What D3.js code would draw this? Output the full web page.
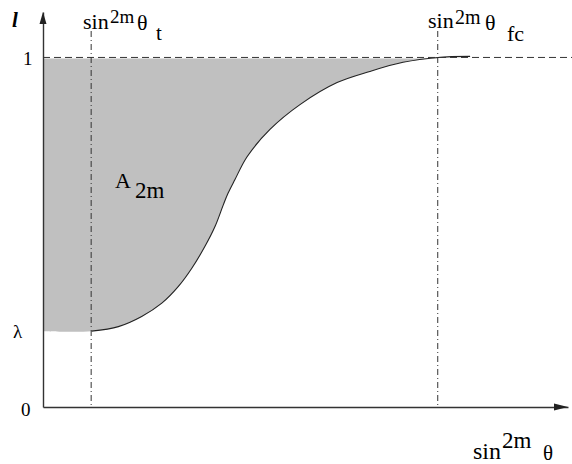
<html>
<head>
<meta charset="utf-8">
<script src="https://cdn.jsdelivr.net/npm/d3@7/dist/d3.min.js"></script>
<style>
  body { margin: 0; background: #fff; }
</style>
</head>
<body>
<div id="chart"></div>
<script>
// valeurs (x = sin^2m theta, y = l)
const lambda = 0.217;
const xT = 0.122;      // sin^2m theta_t
const xFc = 1.0;       // sin^2m theta_fc
const curveX = [0, 0.123, 0.191, 0.250, 0.301, 0.343, 0.377, 0.410, 0.436, 0.457, 0.469, 0.486, 0.517, 0.575, 0.651, 0.745, 0.828, 0.912, 1.0, 1.082];
const curveY = [0.217, 0.217, 0.230, 0.259, 0.297, 0.345, 0.397, 0.459, 0.517, 0.579, 0.612, 0.650, 0.716, 0.794, 0.865, 0.928, 0.960, 0.986, 1.0, 1.003];
const yTickValues = [0, lambda, 1];
const yTickLabels = ["0", "\u03bb", "1"];

const width = 572, height = 464;
const serif = "Liberation Serif";

const x = d3.scaleLinear().domain([0, 1.33]).range([43, 568]);
const y = d3.scaleLinear().domain([0, 1.13]).range([407, 12]);

const svg = d3.select("#chart").append("svg")
    .attr("width", width)
    .attr("height", height);

const pts = curveX.map((v, i) => [v, curveY[i]]);

// zone grise A_2m : entre l = 1 et la courbe
const inFill = pts.filter(p => p[0] <= xFc);
const area = d3.area()
    .x(d => x(d[0]))
    .y0(y(1) + 1)
    .y1(d => y(d[1]))
    .curve(d3.curveCatmullRom);
svg.append("path")
    .datum(inFill)
    .attr("d", area)
    .attr("fill", "#c0c0c0");

// courbe
const line = d3.line()
    .x(d => x(d[0]))
    .y(d => y(d[1]))
    .curve(d3.curveCatmullRom);
svg.append("path")
    .datum(pts.slice(1))
    .attr("d", line)
    .attr("fill", "none")
    .attr("stroke", "#222")
    .attr("stroke-width", 1.1);

// ligne l = 1 en tirets
svg.append("line")
    .attr("x1", x(0)).attr("x2", width)
    .attr("y1", y(1)).attr("y2", y(1))
    .attr("stroke", "#333")
    .attr("stroke-width", 1)
    .attr("stroke-dasharray", "7,4");

// verticales theta_t et theta_fc
[xT, xFc].forEach(v => {
    svg.append("line")
        .attr("x1", x(v)).attr("x2", x(v))
        .attr("y1", 31).attr("y2", y(0))
        .attr("stroke", "#333")
        .attr("stroke-width", 1)
        .attr("stroke-dasharray", "6,3,1,3");
});

// axes
const yAxis = svg.append("g")
    .attr("transform", "translate(" + x(0) + ",0)")
    .call(d3.axisLeft(y).tickValues(yTickValues).tickSize(0).tickPadding(10)
        .tickFormat((d, i) => yTickLabels[i]));
yAxis.select(".domain").attr("stroke", "#333").attr("stroke-width", 1.4);
yAxis.selectAll("text")
    .style("font-family", serif)
    .style("font-size", "19px")
    .attr("fill", "#000")
    .attr("text-anchor", "start")
    .attr("dy", null)
    .attr("y", (d, i) => [8, 6, 7][i])
    .attr("x", (d, i) => [21, 13, 23][i] - x(0));

const xAxis = svg.append("g")
    .attr("transform", "translate(0," + y(0) + ")")
    .call(d3.axisBottom(x).tickValues([]).tickSize(0));
xAxis.select(".domain").attr("stroke", "#333").attr("stroke-width", 1.4);

// fleches
svg.append("path")
    .attr("d", d3.line()([[x(0), y(1.13)], [x(0) - 3.5, y(1.13) + 12], [x(0) + 3.5, y(1.13) + 12]]) + "Z")
    .attr("fill", "#222");
svg.append("path")
    .attr("d", d3.line()([[x(1.33), y(0)], [x(1.33) - 14, y(0) - 3.5], [x(1.33) - 14, y(0) + 3.5]]) + "Z")
    .attr("fill", "#222");

// textes : [texte, x, ligne de base, taille]
function piece(p) {
    svg.append("text")
        .attr("x", p[1]).attr("y", p[2])
        .style("font-family", serif)
        .style("font-size", p[3] + "px")
        .text(p[0]);
}

svg.append("text")
    .attr("x", 12).attr("y", 27)
    .style("font-family", serif)
    .style("font-size", "21px")
    .style("font-weight", "bold")
    .style("font-style", "italic")
    .text("l");

const labelT = [["sin", 83, 29, 22], ["2m", 110, 23, 19], ["\u03b8", 137, 30, 22], ["t", 156, 40, 21]];
const labelFc = [["sin", 428, 28, 22], ["2m", 455, 24, 20], ["\u03b8", 485, 30, 22], ["fc", 507, 41, 22]];
const labelX = [["sin", 473, 459, 24], ["2m", 502, 448, 23], ["\u03b8", 543, 460, 21]];
const labelA = [["A", 115, 188, 22], ["2m", 135, 198, 23]];

[labelT, labelFc, labelX, labelA].forEach(l => l.forEach(piece));
</script>
</body>
</html>
